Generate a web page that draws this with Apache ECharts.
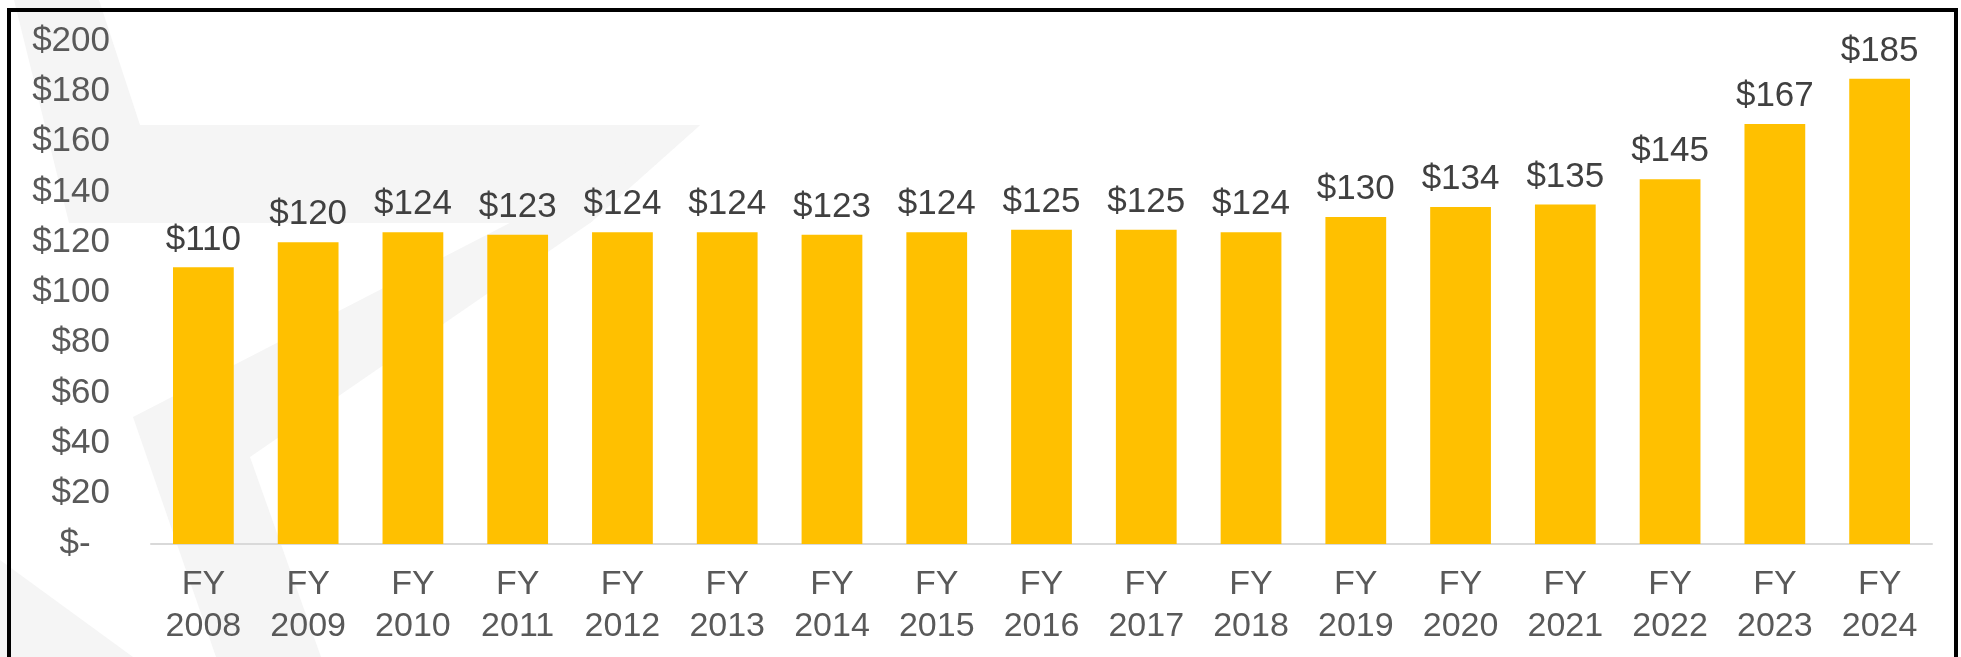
<!DOCTYPE html>
<html>
<head>
<meta charset="utf-8">
<script src="https://cdn.jsdelivr.net/npm/echarts@6/dist/echarts.min.js"></script>
<style>
  html, body { margin: 0; padding: 0; background: #fff; }
  #chart { width: 1961px; height: 657px; }
</style>
</head>
<body>
<div id="chart"></div>
<script>
// fiscal years and values (in $)
const years = ['2008', '2009', '2010', '2011', '2012', '2013', '2014', '2015', '2016',
  '2017', '2018', '2019', '2020', '2021', '2022', '2023', '2024']
const amounts = [110, 120, 124, 123, 124, 124, 123, 124, 125, 125, 124, 130, 134, 135, 145, 167, 185]
const yMin = 0
const yMax = 200
const yStep = 20

const categories = years.map(y => 'FY\n' + y)
const font = 'Liberation Sans, Arial, sans-serif'

const chart = echarts.init(document.getElementById('chart'))

chart.setOption({
  backgroundColor: '#ffffff',
  animation: false,
  grid: {
    left: 151,
    right: 29,
    top: 41,
    bottom: 113
  },
  // faint watermark behind the chart + black frame
  graphic: [
    {
      type: 'polygon', z: -10, silent: true,
      shape: { points: [[14, 0], [99, 0], [140, 125], [700, 125], [590, 223], [69, 223]] },
      style: { fill: '#f5f5f5' }
    },
    {
      type: 'polygon', z: -10, silent: true,
      shape: { points: [[700, 125], [133, 417], [216, 657], [321, 657], [250, 457], [590, 223]] },
      style: { fill: '#f5f5f5' }
    },
    {
      type: 'polygon', z: -10, silent: true,
      shape: { points: [[0, 560], [133, 657], [0, 657]] },
      style: { fill: '#f5f5f5' }
    },
    {
      type: 'rect', z: 100, silent: true,
      shape: { x: 9, y: 10, width: 1947, height: 700 },
      style: { fill: 'none', stroke: '#000000', lineWidth: 4 }
    }
  ],
  xAxis: {
    type: 'category',
    data: categories,
    axisLine: { show: true, lineStyle: { color: '#d9d9d9', width: 2 } },
    axisTick: { show: false },
    axisLabel: {
      color: '#595959',
      fontFamily: font,
      fontSize: 34,
      lineHeight: 42,
      margin: 20,
      interval: 0
    }
  },
  yAxis: {
    type: 'value',
    min: yMin,
    max: yMax,
    interval: yStep,
    splitLine: { show: false },
    axisLine: { show: false },
    axisTick: { show: false },
    axisLabel: {
      color: '#595959',
      fontFamily: font,
      fontSize: 35,
      margin: 41,
      formatter: v => v === 0 ? '$-  ' : '$' + v
    }
  },
  series: [
    {
      name: 'Amount',
      type: 'bar',
      data: amounts,
      barCategoryGap: '42%',
      itemStyle: { color: '#ffc000' },
      label: {
        show: true,
        position: 'top',
        distance: 10,
        color: '#404040',
        fontFamily: font,
        fontSize: 35,
        formatter: p => '$' + p.value
      }
    }
  ]
})
</script>
</body>
</html>
